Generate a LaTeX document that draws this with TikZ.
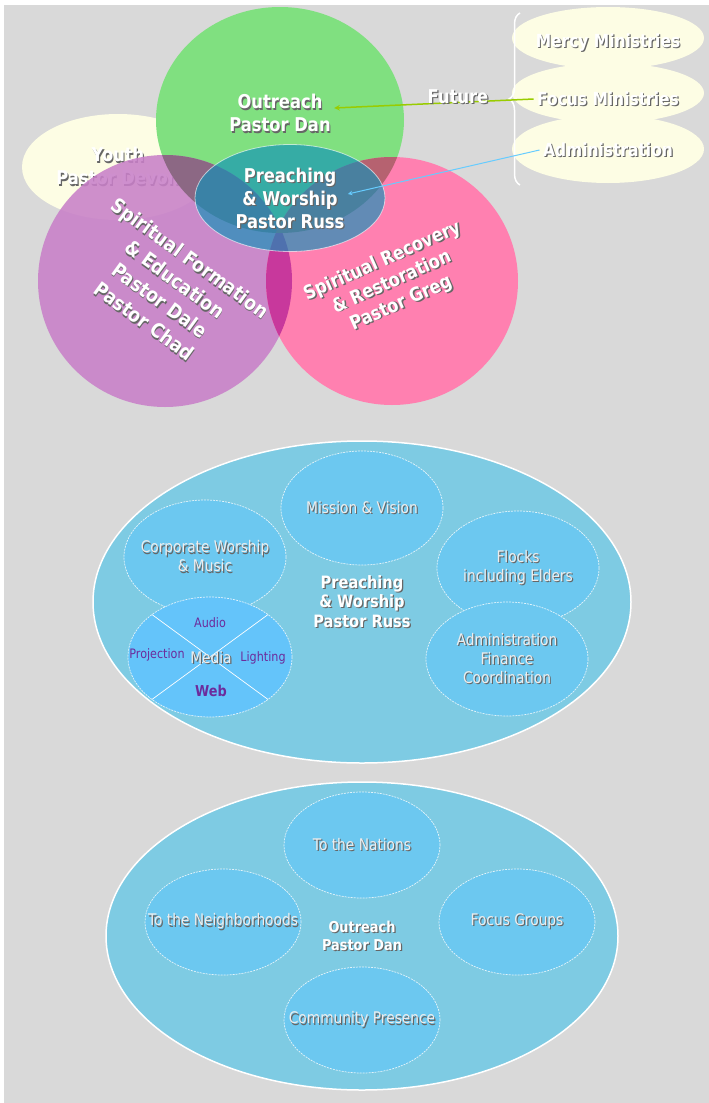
\documentclass[tikz,border=0pt]{standalone}
\usepackage{fontspec}
\setmainfont[FakeStretch=0.86]{DejaVu Sans}
\usetikzlibrary{shapes.geometric, decorations.pathreplacing}

\definecolor{canvas}{RGB}{217,217,217}
\definecolor{cream}{RGB}{253,253,228}
\definecolor{leafgreen}{RGB}{128,224,128}
\definecolor{orchid}{RGB}{200,128,200}
\definecolor{rose}{RGB}{255,128,176}
\definecolor{mauve}{RGB}{140,104,132}
\definecolor{dustyrose}{RGB}{182,98,112}
\definecolor{magentalens}{RGB}{200,56,156}
\definecolor{tealblue}{RGB}{15,145,185}
\definecolor{skyblue}{RGB}{126,203,227}
\definecolor{circleblue}{RGB}{108,200,240}
\definecolor{mediablue}{RGB}{100,196,250}
\definecolor{mediapurple}{RGB}{108,44,156}
\definecolor{arrowgreen}{RGB}{153,204,0}
\definecolor{arrowblue}{RGB}{102,204,255}

% text with a dark drop shadow
\newcommand\shd[1]{\makebox[0pt][l]{\hspace{1.2pt}\raisebox{-1.2pt}{\textcolor{black!60}{#1}}}#1}

\begin{document}
\begin{tikzpicture}[x=1pt, y=-1pt,
    blob/.style={ellipse, inner sep=0pt, outer sep=0pt},
    head/.style={text=white, align=center, font=\fontsize{19}{23}\selectfont\bfseries},
    wide/.style={blob, fill=skyblue, draw=white, line width=1.5pt},
    part/.style={blob, fill=circleblue, draw=white, draw opacity=0.8, line width=0.7pt,
                 dash pattern=on 2pt off 1pt, minimum width=162pt, minimum height=114pt},
    lbl/.style={text=black!7, align=center, font=\fontsize{16}{19}\selectfont},
    tag/.style={text=mediapurple, font=\fontsize{13}{15}\selectfont}]

    \useasboundingbox (0,0) rectangle (709,1103);
    \fill[white] (0,0) rectangle (709,1103);
    \fill[canvas] (4,5) rectangle (709,1103);

    % the ministry circles
    \node (youth)[blob, fill=cream, minimum width=192pt, minimum height=106pt] at (118, 167) {};
    \node (youthtxt)[head] at (118, 167) {\shd{Youth}\\\shd{Pastor Devon}};
    \node (outreach)[blob, fill=leafgreen, minimum width=248pt, minimum height=226pt] at (280, 120) {};
    \node (formation)[blob, fill=orchid, fill opacity=0.88, minimum width=254pt, minimum height=252pt] at (165, 281) {};
    \node (recovery)[blob, fill=rose, minimum width=252pt, minimum height=248pt] at (392, 281) {};

    \begin{scope}
        \clip (formation.center) ellipse [x radius=127, y radius=126];
        \fill[mauve] (outreach.center) ellipse [x radius=124, y radius=113];
        \fill[magentalens] (recovery.center) ellipse [x radius=126, y radius=124];
    \end{scope}
    \begin{scope}
        \clip (recovery.center) ellipse [x radius=126, y radius=124];
        \fill[dustyrose] (outreach.center) ellipse [x radius=124, y radius=113];
    \end{scope}

    \node (formationtxt)[head, rotate=-36, font=\fontsize{20}{26}\selectfont\bfseries] at (167, 290)
        {\shd{Spiritual Formation}\\\shd{\& Education}\\\shd{Pastor Dale}\\\shd{Pastor Chad}};
    \node (recoverytxt)[head, rotate=24] at (392, 283)
        {\shd{Spiritual Recovery}\\\shd{\& Restoration}\\\shd{Pastor Greg}};

    \node (preaching)[blob, fill=tealblue, fill opacity=0.65, draw=white, draw opacity=0.6, line width=0.8pt,
        minimum width=190pt, minimum height=107pt] at (290, 198) {};
    \node (outreachtxt)[head] at (280, 114) {\shd{Outreach}\\\shd{Pastor Dan}};
    \node (preachtxt)[head] at (290, 199) {\shd{Preaching}\\\shd{\& Worship}\\\shd{Pastor Russ}};

    % future ministries
    \node (mercy)[blob, fill=cream, minimum width=192pt, minimum height=62pt] at (608, 38) {};
    \node (focus)[blob, fill=cream, minimum width=192pt, minimum height=60pt] at (608, 93) {};
    \node (admin)[blob, fill=cream, minimum width=192pt, minimum height=68pt] at (608, 149) {};
    \node (mercytxt)[head, font=\fontsize{18}{22}\selectfont\bfseries] at (608, 43) {\shd{Mercy Ministries}};
    \node (focustxt)[head, font=\fontsize{18}{22}\selectfont\bfseries] at (608, 99) {\shd{Focus Ministries}};
    \node (admintxt)[head, font=\fontsize{18}{22}\selectfont\bfseries] at (608, 150) {\shd{Administration}};

    \coordinate (bracelow) at (520, 185);
    \coordinate (bracehigh) at (520, 13);
    \draw[white, line width=1.5pt, decorate, decoration={brace, amplitude=11pt}] (bracelow) -- (bracehigh);

    \draw[-stealth, arrowgreen, line width=1.5pt] (focustxt.west) -- ([yshift=6pt]outreachtxt.east);
    \draw[-stealth, arrowblue, line width=1pt] (admintxt.west) -- ([yshift=5pt]preachtxt.east);
    \node (future)[head] at (458, 97) {\shd{Future}};

    % preaching and worship
    \node (worship)[wide, minimum width=538pt, minimum height=322pt] at (362, 602) {};
    \node (mission)[part, label={[lbl]center:\shd{Mission \& Vision}}] at (362, 508) {};
    \node (corporate)[part, label={[lbl]center:\shd{Corporate Worship}\\\shd{\& Music}}] at (205, 557) {};
    \node (flocks)[part, label={[lbl]center:\shd{Flocks}\\\shd{including Elders}}] at (518, 568) {};
    \node (office)[part, label={[lbl]center:\shd{Administration}\\\shd{Finance}\\\shd{Coordination}}] at (507, 659) {};
    \node (media)[part, fill=mediablue, minimum width=164pt, minimum height=120pt] at (210, 657) {};
    \draw[white, line width=0.7pt] (media.north west) -- (media.south east);
    \draw[white, line width=0.7pt] (media.north east) -- (media.south west);
    \node (audio)[tag] at (210, 623) {Audio};
    \node (projection)[tag] at (157, 655) {Projection};
    \node (lighting)[tag] at (263, 658) {Lighting};
    \node (web)[tag, font=\fontsize{15}{17}\selectfont\bfseries] at (211, 691) {Web};
    \node (mediatxt)[lbl] at (211, 658) {\shd{Media}};
    \node (worshiptxt)[head, font=\fontsize{17}{19.5}\selectfont\bfseries] at (362, 602)
        {\shd{Preaching}\\\shd{\& Worship}\\\shd{Pastor Russ}};

    % outreach
    \node (reach)[wide, minimum width=512pt, minimum height=308pt] at (362, 936) {};
    \node (nations)[part, minimum width=156pt, minimum height=106pt, label={[lbl]center:\shd{To the Nations}}] at (362, 845) {};
    \node (hoods)[part, minimum width=156pt, minimum height=106pt, label={[lbl]center:\shd{To the Neighborhoods}}] at (223, 922) {};
    \node (groups)[part, minimum width=156pt, minimum height=106pt, label={[lbl]center:\shd{Focus Groups}}] at (517, 922) {};
    \node (presence)[part, minimum width=156pt, minimum height=106pt, label={[lbl]center:\shd{Community Presence}}] at (362, 1020) {};
    \node (reachtxt)[head, font=\fontsize{15}{18}\selectfont\bfseries] at (362, 936) {\shd{Outreach}\\\shd{Pastor Dan}};

\end{tikzpicture}
\end{document}
